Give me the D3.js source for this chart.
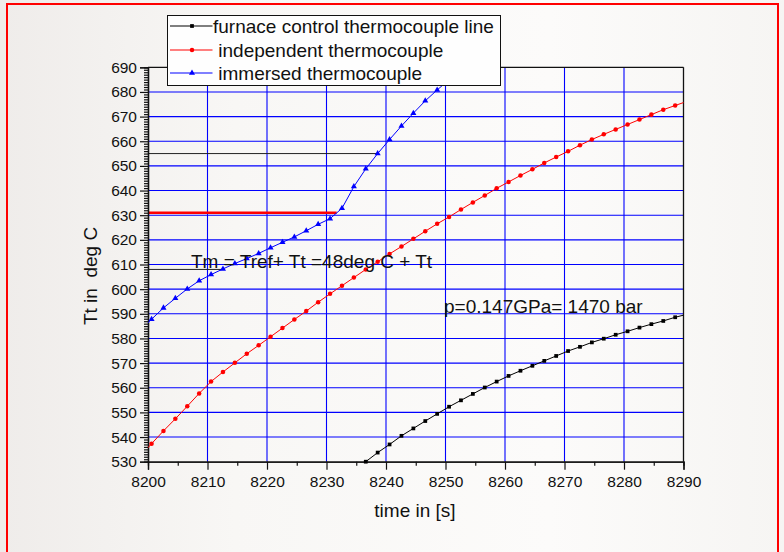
<!DOCTYPE html>
<html>
<head>
<meta charset="utf-8">
<script src="https://cdn.jsdelivr.net/npm/d3@7"></script>
<style>
  html, body { margin: 0; padding: 0; }
  body { width: 784px; height: 552px; overflow: hidden; }
  text { font-family: "Liberation Sans", Arial, sans-serif; fill: #111; }
</style>
</head>
<body>
<div id="graph"></div>
<script>
// sample times (every 2 s) and readings of the three thermocouples
const timesImmersed = [8198.6, 8200.6, 8202.6, 8204.6, 8206.6, 8208.6, 8210.6, 8212.6, 8214.6, 8216.6,
  8218.6, 8220.6, 8222.6, 8224.6, 8226.6, 8228.6, 8230.6, 8232.6, 8234.6, 8236.6,
  8238.6, 8240.6, 8242.6, 8244.6, 8246.6, 8248.6, 8250.6, 8252.6, 8254.6];
const immersed = [583.0, 587.8, 592.4, 596.3, 600.1, 603.4, 605.9, 608.2, 610.4, 612.4,
  614.5, 616.8, 619.0, 621.2, 623.7, 626.3, 628.6, 632.8, 641.6, 648.8,
  655.0, 660.7, 666.2, 671.4, 676.4, 680.8, 685.0, 689.0, 692.8];

const timesIndependent = [8198.6, 8200.6, 8202.6, 8204.6, 8206.6, 8208.6, 8210.6, 8212.6, 8214.6, 8216.6,
  8218.6, 8220.6, 8222.6, 8224.6, 8226.6, 8228.6, 8230.6, 8232.6, 8234.6, 8236.6,
  8238.6, 8240.6, 8242.6, 8244.6, 8246.6, 8248.6, 8250.6, 8252.6, 8254.6, 8256.6,
  8258.6, 8260.6, 8262.6, 8264.6, 8266.6, 8268.6, 8270.6, 8272.6, 8274.6, 8276.6,
  8278.6, 8280.6, 8282.6, 8284.6, 8286.6, 8288.6, 8290.6];
const independent = [532.0, 537.3, 542.5, 547.4, 552.5, 557.7, 562.5, 566.4, 570.1, 573.8,
  577.2, 580.7, 584.2, 587.7, 591.1, 594.7, 598.1, 601.4, 604.7, 608.0,
  611.1, 614.3, 617.3, 620.4, 623.5, 626.5, 629.3, 632.3, 635.2, 638.0,
  640.9, 643.5, 646.1, 648.6, 651.2, 653.6, 655.9, 658.4, 660.7, 662.8,
  664.8, 666.8, 668.8, 670.8, 672.8, 674.5, 676.2];

const timesFurnace = [8236.6, 8238.6, 8240.6, 8242.6, 8244.6, 8246.6, 8248.6, 8250.6, 8252.6, 8254.6,
  8256.6, 8258.6, 8260.6, 8262.6, 8264.6, 8266.6, 8268.6, 8270.6, 8272.6, 8274.6,
  8276.6, 8278.6, 8280.6, 8282.6, 8284.6, 8286.6, 8288.6, 8290.6];
const furnace = [530.0, 533.7, 537.0, 540.5, 543.5, 546.5, 549.4, 552.3, 554.9, 557.5,
  560.1, 562.5, 564.8, 566.9, 568.9, 570.9, 572.9, 574.9, 576.6, 578.4,
  579.9, 581.5, 582.9, 584.4, 585.8, 587.1, 588.6, 589.8];

// horizontal guide lines: [temperature, end time]
const guideLevels = [655.0, 631.0, 608.0];
const guideEnds = [8238.6, 8231.7, 8212.5];

const xTicks = [8200, 8210, 8220, 8230, 8240, 8250, 8260, 8270, 8280, 8290];
const yTicks = [530, 540, 550, 560, 570, 580, 590, 600, 610, 620, 630, 640, 650, 660, 670, 680, 690];

const legendLabels = ["furnace control thermocouple line", " independent thermocouple", " immersed thermocouple"];

const width = 784, height = 552;
const plotLeft = 148, plotRight = 683.5, plotTop = 67.3, plotBottom = 461.7;

const svg = d3.select("#graph").append("svg")
  .attr("width", width)
  .attr("height", height);

// page background, soft slide gradient
const defs = svg.append("defs");
const grad = defs.append("linearGradient").attr("id", "bg").attr("x1", "0").attr("x2", "1");
grad.append("stop").attr("offset", "0").attr("stop-color", "#efecea");
grad.append("stop").attr("offset", "0.3").attr("stop-color", "#f8f7f5");
grad.append("stop").attr("offset", "0.7").attr("stop-color", "#fcfbfa");
grad.append("stop").attr("offset", "1").attr("stop-color", "#f6f5f3");
svg.append("rect").attr("width", width).attr("height", height).attr("fill", "url(#bg)");

defs.append("clipPath").attr("id", "plotclip")
  .append("rect").attr("x", plotLeft).attr("y", plotTop)
  .attr("width", plotRight - plotLeft).attr("height", plotBottom - plotTop);

// red frame of the slide
svg.append("path")
  .attr("d", "M7,552 L7,4 L778,4 L778,552")
  .attr("fill", "none")
  .attr("stroke", "#ff0000")
  .attr("stroke-width", 2);

const x = d3.scaleLinear().domain([8200, 8290]).range([plotLeft, plotRight]);
const y = d3.scaleLinear().domain([530, 690]).range([plotBottom, plotTop]);

// grid
svg.append("g")
  .selectAll("line")
  .data(xTicks.slice(1, -1))
  .enter().append("line")
    .attr("x1", d => x(d)).attr("x2", d => x(d))
    .attr("y1", plotTop).attr("y2", plotBottom)
    .attr("stroke", "#0000ff").attr("stroke-width", 1.1);

svg.append("g")
  .selectAll("line")
  .data(yTicks.slice(1, -1))
  .enter().append("line")
    .attr("x1", plotLeft).attr("x2", plotRight)
    .attr("y1", d => y(d)).attr("y2", d => y(d))
    .attr("stroke", "#0000ff").attr("stroke-width", 1.1);

// guide lines from the axis to the immersed curve
svg.append("g")
  .selectAll("line")
  .data(guideLevels)
  .enter().append("line")
    .attr("x1", plotLeft)
    .attr("x2", (d, i) => x(guideEnds[i]))
    .attr("y1", d => y(d)).attr("y2", d => y(d))
    .attr("stroke", d => d === 631.0 ? "#ff0000" : "#222")
    .attr("stroke-width", d => d === 631.0 ? 2.6 : 1);

// axes
const xAxis = d3.axisBottom(x).tickValues(xTicks).tickSize(8).tickPadding(6).tickFormat(d3.format("d"));
const xMinor = d3.axisBottom(x).tickValues(d3.range(8205, 8290, 10)).tickSize(4).tickFormat("");
const yAxis = d3.axisLeft(y).tickValues(yTicks).tickSize(8).tickPadding(3).tickFormat(d3.format("d"));
const yMinor = d3.axisLeft(y).tickValues(d3.range(531, 690, 1).filter(d => d % 10 !== 0)).tickSize(4).tickFormat("");

function styleAxis(g) {
  g.select(".domain").attr("stroke", "#111").attr("stroke-width", 1.3);
  g.selectAll(".tick line").attr("stroke", "#111").attr("stroke-width", 1.2);
  g.selectAll(".tick text").style("font-size", "15.5px").attr("fill", "#111");
}

svg.append("g").attr("transform", "translate(0," + plotBottom + ")").call(xMinor).call(styleAxis);
svg.append("g").attr("transform", "translate(0," + plotBottom + ")").call(xAxis).call(styleAxis);
svg.append("g").attr("transform", "translate(" + plotLeft + ",0)").call(yMinor).call(styleAxis);
svg.append("g").attr("transform", "translate(" + plotLeft + ",0)").call(yAxis).call(styleAxis);

// top and right frame lines
svg.append("line").attr("x1", plotLeft).attr("x2", plotRight).attr("y1", plotTop).attr("y2", plotTop)
  .attr("stroke", "#111").attr("stroke-width", 1.3);
svg.append("line").attr("x1", plotRight).attr("x2", plotRight).attr("y1", plotTop).attr("y2", plotBottom)
  .attr("stroke", "#111").attr("stroke-width", 1.3);

// series
const series = [
  { t: timesFurnace, v: furnace, color: "#000000", symbol: d3.symbolSquare, size: 14 },
  { t: timesIndependent, v: independent, color: "#ff0000", symbol: d3.symbolCircle, size: 16 },
  { t: timesImmersed, v: immersed, color: "#0000ff", symbol: d3.symbolTriangle, size: 16 }
];

const line = d3.line().x(d => x(d[0])).y(d => y(d[1]));
const plot = svg.append("g").attr("clip-path", "url(#plotclip)");

series.forEach(function(s) {
  const pts = s.t.map((t, i) => [t, s.v[i]]);
  plot.append("path")
    .datum(pts)
    .attr("d", line)
    .attr("fill", "none")
    .attr("stroke", s.color)
    .attr("stroke-width", 1);

  svg.append("g")
    .selectAll("path")
    .data(pts.filter(d => d[0] >= 8200 && d[0] <= 8290 && d[1] >= 529 && d[1] <= 690))
    .enter().append("path")
      .attr("transform", d => "translate(" + x(d[0]) + "," + y(d[1]) + ")")
      .attr("d", d3.symbol().type(s.symbol).size(s.size)())
      .attr("fill", s.color);
});

// annotations
svg.append("text")
  .attr("x", 191).attr("y", 268)
  .style("font-size", "19px")
  .text("Tm = Tref+ Tt =48deg C + Tt");

svg.append("text")
  .attr("x", 444).attr("y", 313)
  .style("font-size", "19px")
  .text("p=0.147GPa= 1470 bar");

// axis titles
svg.append("text")
  .attr("x", 415).attr("y", 517)
  .attr("text-anchor", "middle")
  .style("font-size", "19px")
  .text("time in [s]");

svg.append("text")
  .attr("transform", "translate(97,276) rotate(-90)")
  .attr("text-anchor", "middle")
  .style("font-size", "19px")
  .style("white-space", "pre")
  .text("Tt in  deg C");

// legend
const legend = svg.append("g").attr("class", "legend");
legend.append("rect")
  .attr("x", 167.5).attr("y", 15.5).attr("width", 333).attr("height", 70)
  .attr("fill", "#fefefe").attr("stroke", "#111").attr("stroke-width", 1);

const rowY = [26, 50, 73];
const item = legend.selectAll("g.item")
  .data(series)
  .enter().append("g")
    .attr("class", "item")
    .attr("transform", (d, i) => "translate(0," + rowY[i] + ")");

item.append("line")
  .attr("x1", 170).attr("x2", 212.5)
  .attr("stroke", d => d.color).attr("stroke-width", 1);

item.append("path")
  .attr("transform", "translate(192,0)")
  .attr("d", d => d3.symbol().type(d.symbol).size(d.size)())
  .attr("fill", d => d.color);

item.append("text")
  .attr("x", 213).attr("y", 6.5)
  .style("font-size", "19px")
  .style("white-space", "pre")
  .text((d, i) => legendLabels[i]);
</script>
</body>
</html>
